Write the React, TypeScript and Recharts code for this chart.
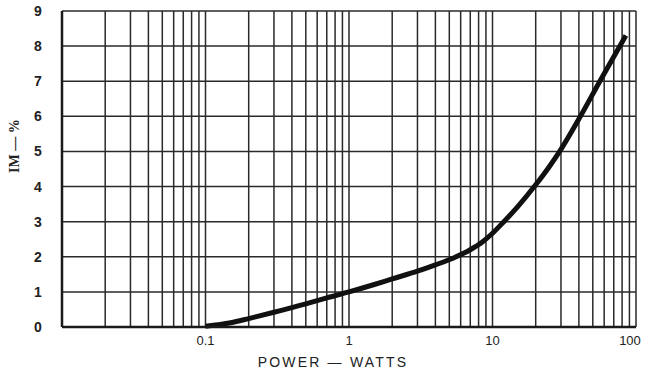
import React from 'react';
import { LineChart, Line, XAxis, YAxis, CartesianGrid, Label } from 'recharts';

const powerWatts = [0.1, 0.15, 0.2, 0.3, 0.5, 0.7, 1, 1.5, 2, 3, 4, 5.3, 7, 8.5, 10, 12, 15, 20, 25, 30, 41, 56, 70, 85];
const imPercent = [0.02, 0.12, 0.24, 0.42, 0.66, 0.83, 1.0, 1.21, 1.37, 1.59, 1.77, 1.96, 2.2, 2.42, 2.67, 3.0, 3.43, 4.05, 4.58, 5.06, 6.0, 7.0, 7.7, 8.3];

const xGridTicks = [
  0.01, 0.02, 0.03, 0.04, 0.05, 0.06, 0.07, 0.08, 0.09,
  0.1, 0.2, 0.3, 0.4, 0.5, 0.6, 0.7, 0.8, 0.9,
  1, 2, 3, 4, 5, 6, 7, 8, 9,
  10, 20, 30, 40, 50, 60, 70, 80, 90, 100,
];
const xLabelTicks = [0.1, 1, 10, 100];
const yTicks = [0, 1, 2, 3, 4, 5, 6, 7, 8, 9];

const data = powerWatts.map((p, i) => ({ p, im: imPercent[i] }));

const XTick = (props: any) => {
  const { x, y, payload } = props;
  if (!xLabelTicks.includes(payload.value)) return null;
  const shift = payload.value === 100 ? -6 : 0;
  return (
    <text x={x + shift} y={y + 10} textAnchor="middle" fontFamily="Liberation Sans, Arial, sans-serif" fontSize={13} fill="#222">
      {String(payload.value)}
    </text>
  );
};

const YTick = (props: any) => {
  const { y, payload } = props;
  return (
    <text x={38} y={y + 5} textAnchor="middle" fontFamily="Liberation Sans, Arial, sans-serif" fontSize={14} fontWeight="bold" fill="#222">
      {String(payload.value)}
    </text>
  );
};

export default function App() {
  return (
    <div style={{ position: 'absolute', left: 0, top: 0, width: 646, height: 370, background: '#fff' }}>
      <LineChart width={646} height={370} data={data} margin={{ top: 11, right: 10, bottom: 0, left: 22 }}>
        <CartesianGrid stroke="#2a2a2a" strokeWidth={1.5} horizontal vertical />
        <XAxis
          dataKey="p"
          type="number"
          scale="log"
          domain={[0.01, 100]}
          ticks={xGridTicks}
          allowDataOverflow
          interval={0}
          tick={<XTick />}
          tickLine={false}
          axisLine={{ stroke: '#1a1a1a', strokeWidth: 2.5 }}
          height={43}
        >
          <Label value="POWER — WATTS" position="insideBottom" offset={3} dx={-16} fontFamily="Liberation Sans, Arial, sans-serif" fontSize={14} letterSpacing={2.2} fill="#222" />
        </XAxis>
        <YAxis
          type="number"
          domain={[0, 9]}
          ticks={yTicks}
          interval={0}
          tick={<YTick />}
          tickLine={false}
          axisLine={{ stroke: '#1a1a1a', strokeWidth: 2.5 }}
          width={40}
        >
          <Label value="IM — %" angle={-90} position="insideLeft" offset={0} dx={-8} dy={4} fontFamily="Liberation Serif, serif" fontWeight="bold" fontSize={14} fill="#222" />
        </YAxis>
        <Line
          type="monotone"
          dataKey="im"
          stroke="#111"
          strokeWidth={5}
          dot={false}
          isAnimationActive={false}
        />
      </LineChart>
    </div>
  );
}
